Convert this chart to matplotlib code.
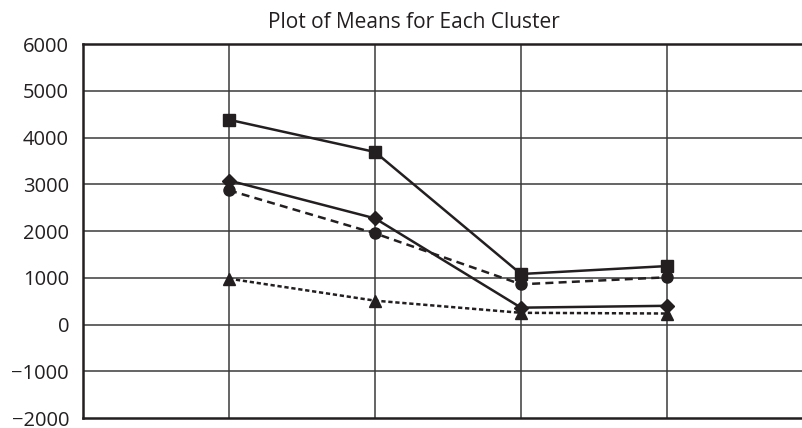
import matplotlib
matplotlib.use("Agg")
import matplotlib.pyplot as plt

plt.rcParams['font.family'] = ['Open Sans', 'DejaVu Sans']

clusters = [1, 2, 3, 4]
series_square = [4380, 3690, 1080, 1250]
series_diamond = [3080, 2270, 360, 400]
series_circle = [2870, 1950, 860, 1010]
series_triangle = [980, 510, 250, 235]
yticks = [-2000, -1000, 0, 1000, 2000, 3000, 4000, 5000, 6000]
ytick_labels = ['\u22122000', '\u22121000', '0', '1000', '2000', '3000', '4000', '5000', '6000']
title = "Plot of Means for Each Cluster"

W, H = 803, 428
fig = plt.figure(figsize=(W / 100, H / 100), dpi=100)
left, right, top, bottom = 83, 813, 44, 418
ax = fig.add_axes([left / W, 1 - bottom / H, (right - left) / W, (bottom - top) / H])

ax.set_xlim(0, 5)
ax.set_ylim(-2000, 6000)

col = '#231f20'
for x in clusters:
    ax.axvline(x, color='#3a3a3a', lw=1.1, zorder=1)
for y in yticks[1:-1]:
    ax.axhline(y, color='#3a3a3a', lw=1.1, zorder=1)

ax.plot(clusters, series_square, color=col, lw=1.8, marker='s', ms=8, zorder=3)
ax.plot(clusters, series_diamond, color=col, lw=1.8, marker='D', ms=7.5, zorder=3)
ax.plot(clusters, series_circle, color=col, lw=1.8, marker='o', ms=8, ls=(0, (3.2, 2.1)), zorder=3)
ax.plot(clusters, series_triangle, color=col, lw=1.8, marker='^', ms=9, ls=(0, (1.7, 1.1)), zorder=3)

ax.set_xticks([])
ax.set_yticks(yticks)
ax.set_yticklabels(ytick_labels, fontsize=14.5, color=col)
ax.tick_params(axis='y', length=0, pad=10)

ax.spines['right'].set_visible(False)
for s in ['top', 'bottom', 'left']:
    ax.spines[s].set_color(col)
    ax.spines[s].set_linewidth(1.8)

fig.text(414 / W, 1 - 22 / H, title, ha='center', va='center', fontsize=15, color=col)

fig.savefig('out.png', dpi=100)
